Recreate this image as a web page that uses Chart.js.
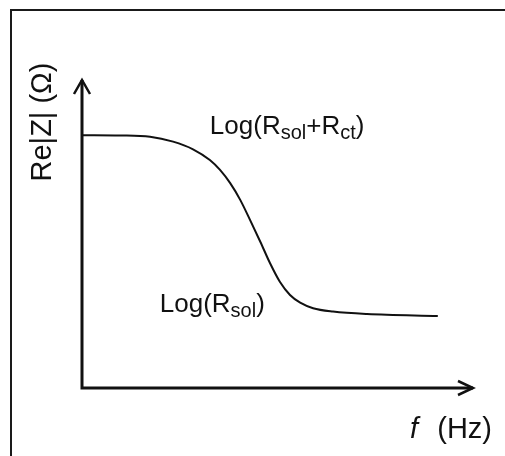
<!DOCTYPE html>
<html lang="en">
<head>
    <meta charset="UTF-8">
    <title>Re|Z| vs f</title>
    <script src="https://cdn.jsdelivr.net/npm/chart.js"></script>
    <style>
        html, body { margin: 0; padding: 0; background: white; }
        canvas { display: block; }
    </style>
</head>
<body>

<canvas id="reZChart" width="505" height="456"></canvas>

<script>
// sketch of Re|Z| falling from Log(Rsol+Rct) down to Log(Rsol) as f rises
const freq = [0, 0.97, 1.74, 2.33, 2.84, 3.27, 3.53, 3.79, 4.05, 4.30, 4.56, 4.81, 5.06, 5.32, 5.58, 5.91, 6.42, 7.29, 9.10];
const reZ  = [8.21, 8.20, 8.16, 8.00, 7.75, 7.40, 7.08, 6.65, 6.10, 5.45, 4.75, 4.05, 3.45, 3.02, 2.77, 2.59, 2.48, 2.40, 2.34];
const axisMax = 10;

const FONT = '"Liberation Sans", Arial, sans-serif';
const INK = '#111';

// text with subscripts, drawn left to right from (x, y)
function drawRich(ctx, parts, x, y, size) {
    parts.forEach(p => {
        const s = p.sub ? Math.round(size * 0.75) : size;
        ctx.font = s + 'px ' + FONT;
        ctx.fillText(p.t, x, p.sub ? y + 5 : y);
        x += ctx.measureText(p.t).width;
    });
}

const sketchAxes = {
    id: 'sketchAxes',
    beforeDraw(chart) {
        const ctx = chart.ctx;
        // frame (top and left edges only)
        ctx.save();
        ctx.strokeStyle = '#1a1a1a';
        ctx.lineWidth = 2;
        ctx.beginPath();
        ctx.moveTo(11, chart.height);
        ctx.lineTo(11, 10);
        ctx.lineTo(chart.width, 10);
        ctx.stroke();
        ctx.restore();
    },
    afterDraw(chart) {
        const ctx = chart.ctx;
        const xs = chart.scales.x, ys = chart.scales.y;
        const x0 = xs.getPixelForValue(0), y0 = ys.getPixelForValue(0);
        const xEnd = xs.getPixelForValue(axisMax), yEnd = ys.getPixelForValue(axisMax);

        ctx.save();
        ctx.strokeStyle = INK;
        ctx.lineWidth = 3;
        ctx.beginPath();
        ctx.moveTo(x0, yEnd);
        ctx.lineTo(x0, y0);
        ctx.lineTo(xEnd, y0);
        ctx.stroke();

        // open arrow heads
        ctx.lineWidth = 2.5;
        ctx.beginPath();
        ctx.moveTo(x0 - 8, yEnd + 14);
        ctx.lineTo(x0, yEnd);
        ctx.lineTo(x0 + 8, yEnd + 14);
        ctx.moveTo(xEnd - 15, y0 - 7);
        ctx.lineTo(xEnd, y0);
        ctx.lineTo(xEnd - 15, y0 + 7);
        ctx.stroke();

        ctx.fillStyle = INK;
        ctx.textBaseline = 'alphabetic';

        // axis titles
        ctx.save();
        ctx.translate(x0 - 31, yEnd + 42);
        ctx.rotate(-Math.PI / 2);
        ctx.textAlign = 'center';
        ctx.font = '29px ' + FONT;
        ctx.fillText('Re|Z| (\u03A9)', 0, 0);
        ctx.restore();

        ctx.textAlign = 'right';
        ctx.font = '29px ' + FONT;
        ctx.fillText('(Hz)', xEnd + 19, y0 + 50);
        ctx.textAlign = 'left';
        ctx.font = 'italic 29px ' + FONT;
        ctx.fillText('f', x0 + 328, y0 + 50);

        // plateau labels
        drawRich(ctx, [{t: 'Log(R'}, {t: 'sol', sub: true}, {t: '+R'}, {t: 'ct', sub: true}, {t: ')'}],
            xs.getPixelForValue(3.27), ys.getPixelForValue(8.25), 26);
        drawRich(ctx, [{t: 'Log(R'}, {t: 'sol', sub: true}, {t: ')'}],
            xs.getPixelForValue(1.99), ys.getPixelForValue(2.47), 26);
        ctx.restore();
    }
};

new Chart(document.getElementById('reZChart'), {
    type: 'line',
    data: {
        datasets: [{
            data: freq.map((f, i) => ({x: f, y: reZ[i]})),
            borderColor: INK,
            borderWidth: 2,
            pointRadius: 0,
            cubicInterpolationMode: 'monotone',
            fill: false
        }]
    },
    options: {
        responsive: false,
        animation: false,
        layout: { padding: { left: 82, right: 32, top: 80, bottom: 68 } },
        scales: {
            x: { type: 'linear', min: 0, max: axisMax, display: false },
            y: { type: 'linear', min: 0, max: axisMax, display: false }
        },
        plugins: { legend: { display: false }, tooltip: { enabled: false } }
    },
    plugins: [sketchAxes]
});
</script>
</body>
</html>
